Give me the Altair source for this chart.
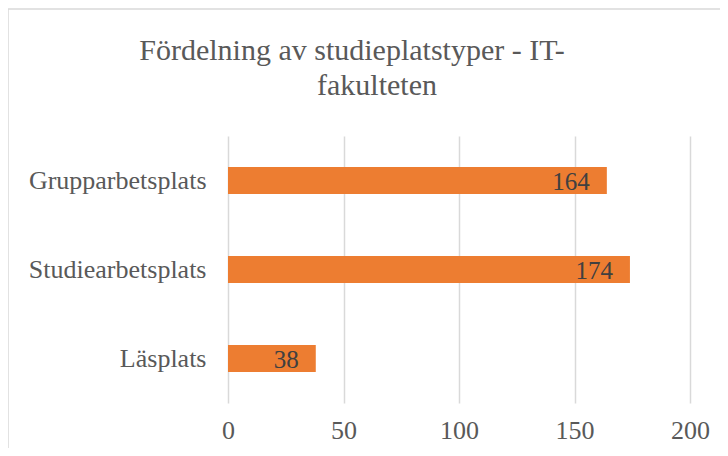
import altair as alt
import pandas as pd

categories = ["Grupparbetsplats", "Studiearbetsplats", "Läsplats"]
values = [164, 174, 38]
title_lines = ["Fördelning av studieplatstyper - IT-", "fakulteten"]

df = pd.DataFrame({"typ": categories, "antal": values})

FONT = "Liberation Serif"

base = alt.Chart(df)

bars = base.mark_bar(color="#ED7D31", size=27).encode(
    x=alt.X("antal:Q", scale=alt.Scale(domain=[0, 200], nice=False),
            axis=alt.Axis(values=[0, 50, 100, 150, 200], title=None, domain=False, ticks=False,
                          grid=True, gridColor="#d9d9d9", gridWidth=1.5, labelFlush=False,
                          labelFont=FONT, labelFontSize=26, labelColor="#595959", labelPadding=14)),
    y=alt.Y("typ:N", sort=categories,
            axis=alt.Axis(title=None, domain=False, ticks=False, grid=False,
                          labelFont=FONT, labelFontSize=26, labelColor="#595959", labelPadding=22)),
)

labels = base.mark_text(align="right", baseline="middle", dx=-17, dy=1, font=FONT, fontSize=25,
                        color="#404040").encode(
    x="antal:Q", y=alt.Y("typ:N", sort=categories), text="antal:Q")

t_df = pd.DataFrame({"t": title_lines, "xp": [124, 149], "yp": [-76, -41]})
title = alt.Chart(t_df).mark_text(align="center", baseline="alphabetic", font=FONT, fontSize=30,
                                  color="#595959").encode(
    x=alt.X("xp:Q", scale=None), y=alt.Y("yp:Q", scale=None), text="t:N")

border_top = alt.Chart(df.head(1)).mark_rule(color="#d9d9d9", strokeWidth=1.5).encode(
    x=alt.value(-220), x2=alt.value(500), y=alt.value(-127))
border_left = alt.Chart(df.head(1)).mark_rule(color="#d9d9d9", strokeWidth=1.5).encode(
    x=alt.value(-220), y=alt.value(-127), y2=alt.value(320))

chart = alt.layer(border_top, border_left, bars, labels, title).properties(
    width=462, height=267,
    padding={"left": 220, "top": 128, "right": 30, "bottom": 45},
    autosize=alt.AutoSizeParams(type="none"),
    background="white",
).configure_view(stroke=None, strokeWidth=0)

chart.save("out.html", embed_options={"renderer": "svg", "actions": False})
